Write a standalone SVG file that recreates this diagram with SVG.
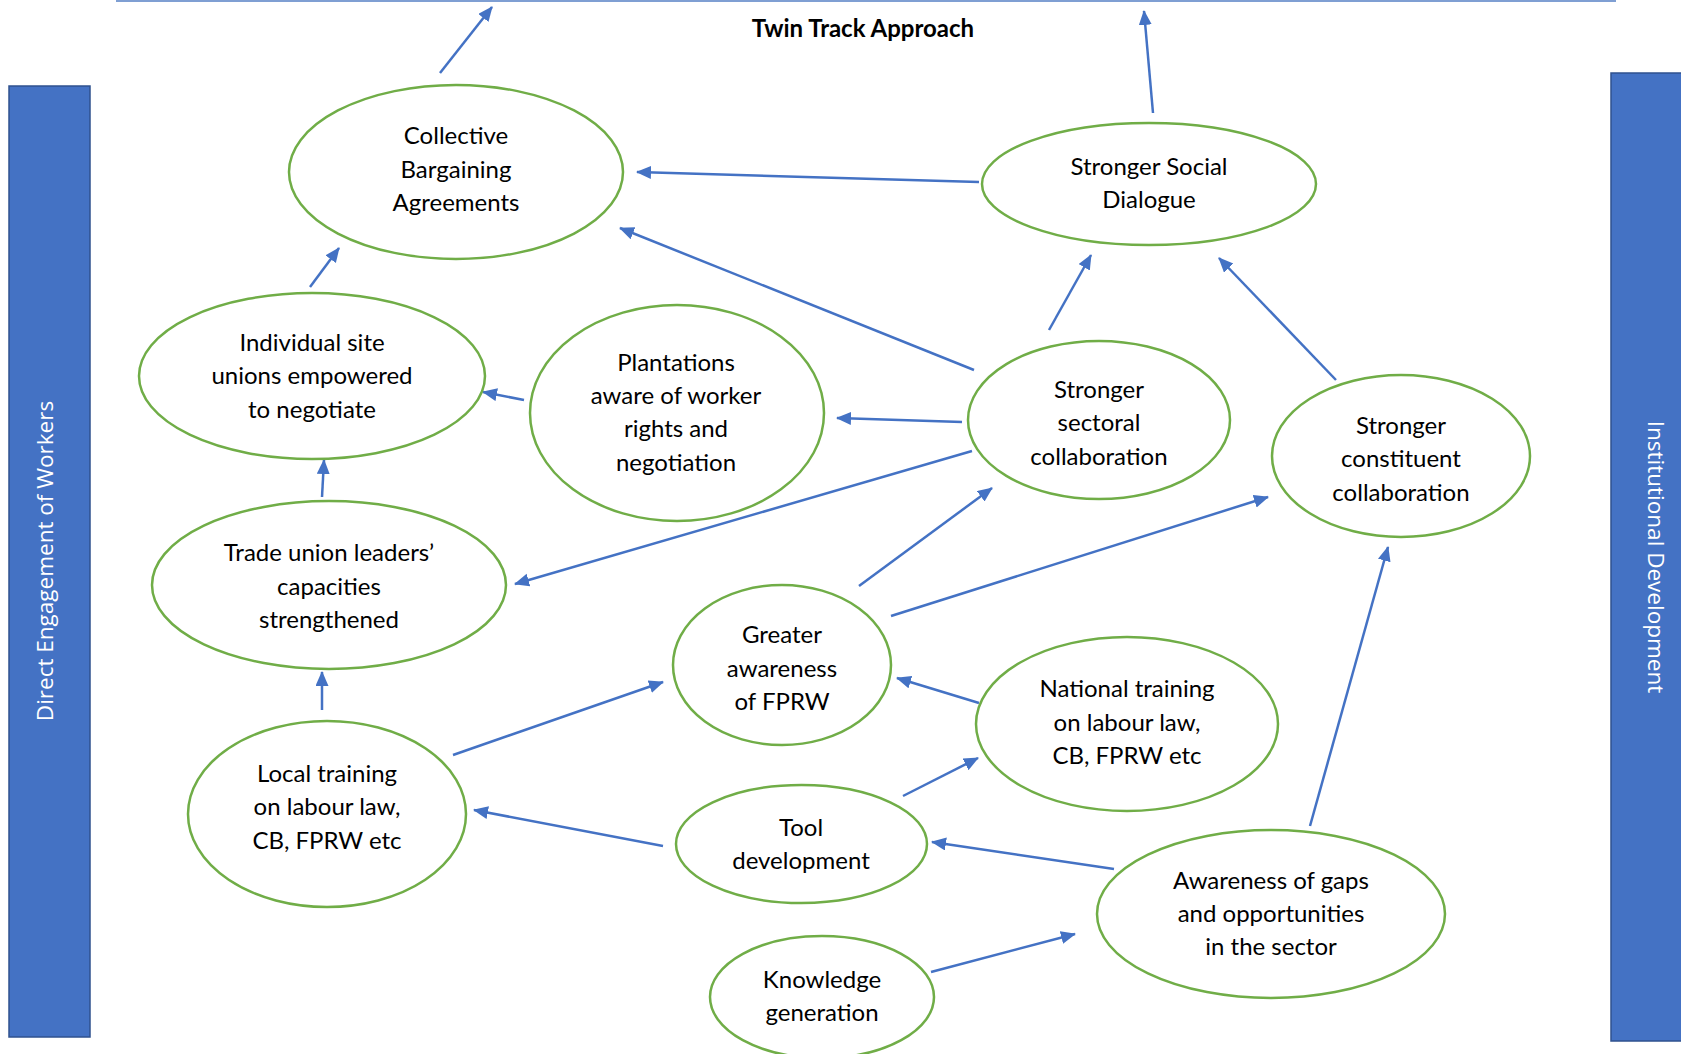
<svg xmlns="http://www.w3.org/2000/svg" width="1681" height="1054" viewBox="0 0 1681 1054">
<style>
.node ellipse{fill:#FFFFFF;stroke:#70AD47;stroke-width:2.5}
.node text{font-family:Lato,"Liberation Sans",sans-serif;font-size:24px;fill:#000000;text-anchor:middle}
.bar{fill:#4472C4;stroke:#2F528F;stroke-width:1.5}
.bartext{font-family:"Open Sans","Liberation Sans",sans-serif;font-size:22.5px;fill:#FFFFFF;text-anchor:middle}
#connectors line{stroke:#4472C4;stroke-width:2.5;fill:none;marker-end:url(#ah)}
.title{font-family:Lato,"Liberation Sans",sans-serif;font-size:24px;font-weight:bold;fill:#000000;text-anchor:middle}
</style>
<defs>
<marker id="ah" markerUnits="userSpaceOnUse" markerWidth="16" markerHeight="14" refX="14" refY="6.5" orient="auto">
<path d="M0,0 L15,6.5 L0,13 z" fill="#4472C4"/>
</marker>
</defs>
<rect width="1681" height="1054" fill="#FFFFFF"/>
<line x1="116" y1="1" x2="1616" y2="1" stroke="#7F9FD3" stroke-width="2"/>
<text class="title" x="863" y="37">Twin Track Approach</text>

<g id="bar-left">
<rect class="bar" x="9" y="86" width="81" height="951"/>
<text class="bartext" transform="translate(53,561) rotate(-90)">Direct Engagement of Workers</text>
</g>
<g id="bar-right">
<rect class="bar" x="1611" y="73" width="75" height="968"/>
<text class="bartext" transform="translate(1648,557) rotate(90)">Institutional Development</text>
</g>

<g id="connectors">
<line x1="440" y1="73" x2="492" y2="7"/>
<line x1="1153" y1="113" x2="1144" y2="11"/>
<line x1="979" y1="182" x2="637" y2="172"/>
<line x1="974" y1="370" x2="620" y2="228"/>
<line x1="1049" y1="330" x2="1091" y2="255"/>
<line x1="1336" y1="380" x2="1219" y2="258"/>
<line x1="962" y1="422" x2="837" y2="418"/>
<line x1="972" y1="451" x2="515" y2="584"/>
<line x1="524" y1="400" x2="483" y2="392"/>
<line x1="310" y1="287" x2="339" y2="248"/>
<line x1="322" y1="497" x2="324" y2="460"/>
<line x1="322" y1="710" x2="322" y2="672"/>
<line x1="453" y1="755" x2="663" y2="682"/>
<line x1="859" y1="586" x2="992" y2="488"/>
<line x1="891" y1="616" x2="1268" y2="497"/>
<line x1="979" y1="703" x2="897" y2="678"/>
<line x1="903" y1="796" x2="978" y2="758"/>
<line x1="663" y1="846" x2="474" y2="810"/>
<line x1="1114" y1="869" x2="932" y2="842"/>
<line x1="931" y1="972" x2="1075" y2="934"/>
<line x1="1310" y1="826" x2="1388" y2="547"/>
</g>

<g id="n-cba" class="node">
<ellipse cx="456" cy="172" rx="167" ry="87"/>
<text x="456" y="144">Collective</text>
<text x="456" y="178">Bargaining</text>
<text x="456" y="211">Agreements</text>
</g>
<g id="n-ssd" class="node">
<ellipse cx="1149" cy="184" rx="167" ry="61"/>
<text x="1149" y="175">Stronger Social</text>
<text x="1149" y="208">Dialogue</text>
</g>
<g id="n-individual" class="node">
<ellipse cx="312" cy="376" rx="173" ry="83"/>
<text x="312" y="351">Individual site</text>
<text x="312" y="384">unions empowered</text>
<text x="312" y="418">to negotiate</text>
</g>
<g id="n-plantations" class="node">
<ellipse cx="677" cy="413" rx="147" ry="108"/>
<text x="676" y="371">Plantations</text>
<text x="676" y="404">aware of worker</text>
<text x="676" y="437">rights and</text>
<text x="676" y="471">negotiation</text>
</g>
<g id="n-sectoral" class="node">
<ellipse cx="1099" cy="420" rx="131" ry="79"/>
<text x="1099" y="398">Stronger</text>
<text x="1099" y="431">sectoral</text>
<text x="1099" y="465">collaboration</text>
</g>
<g id="n-constituent" class="node">
<ellipse cx="1401" cy="456" rx="129" ry="81"/>
<text x="1401" y="434">Stronger</text>
<text x="1401" y="467">constituent</text>
<text x="1401" y="501">collaboration</text>
</g>
<g id="n-tradeunion" class="node">
<ellipse cx="329" cy="585" rx="177" ry="84"/>
<text x="329" y="561">Trade union leaders’</text>
<text x="329" y="595">capacities</text>
<text x="329" y="628">strengthened</text>
</g>
<g id="n-greater" class="node">
<ellipse cx="782" cy="665" rx="109" ry="80"/>
<text x="782" y="643">Greater</text>
<text x="782" y="677">awareness</text>
<text x="782" y="710">of FPRW</text>
</g>
<g id="n-national" class="node">
<ellipse cx="1127" cy="724" rx="151" ry="87"/>
<text x="1127" y="697">National training</text>
<text x="1127" y="731">on labour law,</text>
<text x="1127" y="764">CB, FPRW etc</text>
</g>
<g id="n-local" class="node">
<ellipse cx="327" cy="814" rx="139" ry="93"/>
<text x="327" y="782">Local training</text>
<text x="327" y="815">on labour law,</text>
<text x="327" y="849">CB, FPRW etc</text>
</g>
<g id="n-tool" class="node">
<ellipse cx="801.5" cy="844" rx="125.5" ry="59"/>
<text x="801" y="836">Tool</text>
<text x="801" y="869">development</text>
</g>
<g id="n-gaps" class="node">
<ellipse cx="1271" cy="914" rx="174" ry="84"/>
<text x="1271" y="889">Awareness of gaps</text>
<text x="1271" y="922">and opportunities</text>
<text x="1271" y="955">in the sector</text>
</g>
<g id="n-knowledge" class="node">
<ellipse cx="822" cy="997" rx="112" ry="61"/>
<text x="822" y="988">Knowledge</text>
<text x="822" y="1021">generation</text>
</g>
</svg>
